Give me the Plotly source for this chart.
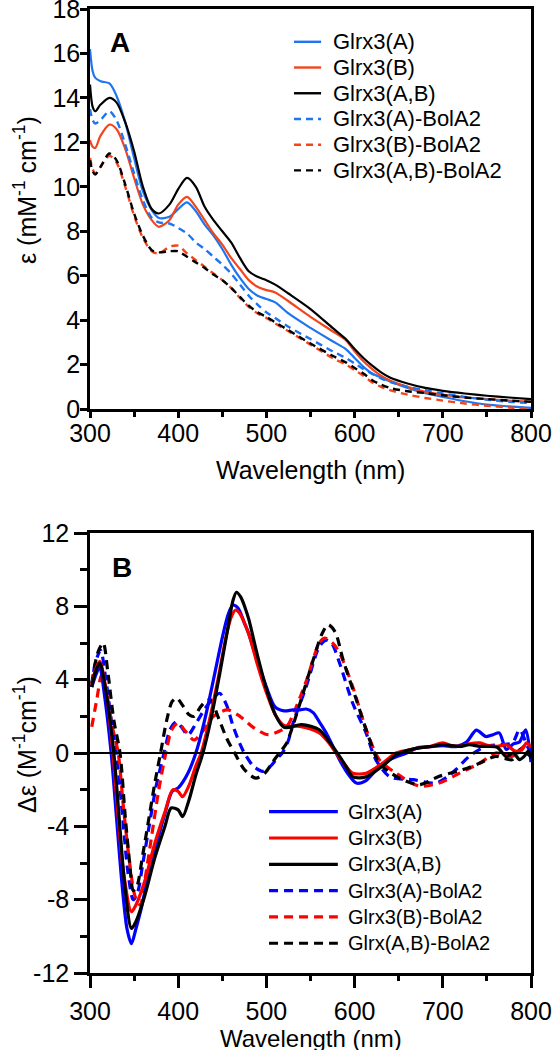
import plotly.graph_objects as go

# ---------------- Panel A: absorption ----------------
WL_ABS = [300, 303, 306, 312, 322, 330, 340, 350, 360, 370, 378, 390, 400, 410, 420, 430, 440, 450, 460, 470,
          480, 490, 500, 510, 525, 550, 575, 590, 600, 610, 620, 630, 640, 660, 680, 700, 725, 750, 775, 800]
ABS_A = [16.2, 15.2, 14.9, 14.75, 14.65, 14.1, 12.9, 11.3, 9.8, 8.95, 8.6, 8.65, 9.0, 9.3, 8.9, 8.3, 7.8, 7.2, 6.5, 5.9,
         5.4, 5.1, 4.95, 4.8, 4.3, 3.65, 3.05, 2.7, 2.3, 1.9, 1.6, 1.42, 1.25, 0.95, 0.72, 0.55, 0.35, 0.2, 0.12, 0.05]
ABS_B = [12.1, 11.8, 11.75, 12.3, 12.8, 12.6, 11.7, 10.4, 9.2, 8.5, 8.2, 8.5, 9.2, 9.55, 9.1, 8.5, 7.9, 7.4, 6.8, 6.3,
         5.8, 5.5, 5.35, 5.25, 4.85, 4.15, 3.5, 3.1, 2.6, 2.15, 1.8, 1.5, 1.28, 1.0, 0.78, 0.65, 0.52, 0.45, 0.38, 0.33]
ABS_AB = [14.6, 13.6, 13.4, 13.7, 14.0, 13.8, 12.9, 11.6, 10.0, 9.0, 8.8, 9.2, 9.9, 10.4, 10.0, 9.1, 8.5, 8.0, 7.5, 6.8,
          6.2, 5.95, 5.8, 5.6, 5.2, 4.5, 3.65, 3.15, 2.7, 2.3, 1.95, 1.65, 1.42, 1.15, 0.95, 0.82, 0.7, 0.6, 0.52, 0.45]
ABS_A_BOL = [13.5, 13.0, 12.85, 13.0, 13.4, 13.0, 11.9, 10.6, 9.4, 8.6, 8.4, 8.35, 8.15, 7.9, 7.5, 7.2, 6.85, 6.5, 6.1, 5.6,
             5.1, 4.7, 4.35, 4.1, 3.7, 3.15, 2.6, 2.3, 2.05, 1.8, 1.58, 1.38, 1.22, 1.0, 0.85, 0.7, 0.55, 0.42, 0.33, 0.27]
ABS_B_BOL = [11.3, 10.8, 10.6, 10.9, 11.4, 11.1, 10.0, 8.7, 7.7, 7.1, 7.0, 7.3, 7.35, 7.0, 6.7, 6.4, 6.1, 5.8, 5.45, 5.0,
             4.6, 4.3, 4.1, 3.85, 3.5, 2.9, 2.3, 2.0, 1.75, 1.5, 1.2, 1.0, 0.85, 0.65, 0.5, 0.38, 0.25, 0.15, 0.07, 0.0]
ABS_AB_BOL = [11.2, 10.7, 10.55, 10.9, 11.5, 11.2, 10.1, 8.8, 7.8, 7.15, 7.05, 7.1, 7.1, 6.85, 6.6, 6.35, 6.05, 5.8, 5.45, 5.05,
              4.65, 4.35, 4.15, 3.9, 3.55, 2.95, 2.4, 2.1, 1.85, 1.6, 1.3, 1.1, 0.95, 0.8, 0.72, 0.62, 0.52, 0.45, 0.38, 0.33]

# ---------------- Panel B: CD ----------------
CD_WL_A = [302, 307, 311, 316, 324, 330, 336, 342, 347, 352, 358, 362, 373, 385, 393, 400, 411, 420, 430, 440,
           450, 457, 462, 468, 475, 480, 490, 500, 510, 520, 530, 538, 545, 553, 560, 568, 575, 583, 592, 602,
           613, 625, 640, 659, 672, 685, 700, 715, 727, 738, 749, 757, 764, 772, 780, 787, 794, 800]
CD_A = [3.6, 4.3, 4.7, 3.3, 0.0, -3.5, -7.0, -9.6, -10.4, -9.6, -8.5, -7.6, -5.4, -3.3, -2.1, -1.9, -1.1, 0.0, 1.8, 4.0,
        6.3, 7.6, 8.07, 7.9, 7.1, 6.5, 5.0, 3.6, 2.5, 2.3, 2.35, 2.35, 2.4, 2.2, 1.7, 1.08, 0.4, -0.38, -1.1, -1.64,
        -1.5, -0.9, -0.36, 0.0, 0.3, 0.35, 0.4, 0.35, 0.6, 1.25, 0.9, 1.0, 1.1, 0.2, 0.5, 0.6, 1.27, -0.5]

CD_WL_B = [302, 306, 311, 318, 326, 332, 338, 347, 352, 362, 373, 385, 394, 400, 405, 412, 420, 426, 435, 445,
           455, 460, 465, 470, 475, 480, 490, 500, 510, 520, 538, 560, 570, 579, 590, 598, 613, 632, 647, 660,
           672, 685, 700, 710, 719, 730, 742, 752, 762, 772, 782, 790, 795, 800]
CD_B = [3.7, 4.5, 5.0, 3.5, 0.0, -3.5, -6.5, -8.66, -8.3, -7.0, -5.0, -3.2, -2.0, -2.1, -2.38, -1.8, -0.7, 0.0, 1.7, 4.0,
        6.5, 7.4, 7.8, 7.6, 7.1, 6.5, 4.8, 3.3, 2.1, 1.5, 1.45, 1.1, 0.6, 0.0, -0.7, -1.1, -1.1, -0.55, 0.0, 0.15,
        0.27, 0.35, 0.55, 0.4, 0.36, 0.5, 0.55, 0.4, 0.36, 0.45, 0.1, 0.2, 0.55, 0.3]

CD_WL_AB = [302, 306, 311, 318, 327, 333, 339, 347, 352, 362, 373, 385, 392, 400, 405, 412, 420, 428, 437, 447,
            457, 462, 466, 471, 476, 480, 490, 500, 510, 520, 540, 560, 570, 579, 590, 598, 613, 632, 647, 660,
            672, 685, 700, 719, 730, 742, 752, 762, 772, 780, 787, 792, 797, 800]
CD_AB = [3.6, 4.4, 4.9, 3.4, 0.0, -3.5, -7.0, -9.57, -9.2, -7.8, -5.8, -4.0, -3.0, -3.1, -3.47, -2.6, -1.2, 0.0, 1.8, 4.3,
         7.0, 8.3, 8.77, 8.5, 7.9, 7.3, 5.3, 3.5, 2.1, 1.4, 1.55, 1.27, 0.7, 0.1, -0.7, -1.3, -1.3, -0.7, -0.1, 0.15,
         0.27, 0.35, 0.45, 0.36, 0.45, 0.36, 0.36, 0.3, -0.2, 0.0, -0.36, -0.2, 0.1, -0.3]

CD_WL_A_BOL = [302, 306, 312, 318, 325, 330, 337, 343, 349, 354, 360, 367, 375, 384, 391, 398, 404, 411, 420, 430,
               440, 447, 455, 462, 470, 475, 485, 496, 505, 512, 518, 525, 530, 545, 560, 568, 575, 583, 598, 613,
               624, 640, 666, 692, 705, 715, 730, 749, 765, 779, 787, 796, 800]
CD_A_BOL = [3.6, 4.9, 5.6, 4.0, 1.5, 0.0, -3.5, -6.5, -8.0, -7.6, -6.0, -4.0, -1.8, 0.0, 1.3, 1.7, 1.4, 0.98, 1.6, 2.4,
            3.0, 3.26, 2.6, 1.5, 0.5, 0.0, -0.7, -1.0, -0.7, -0.3, 0.0, 0.7, 1.6, 3.6, 5.8, 6.16, 5.9, 4.9, 2.7, 1.1,
            -0.36, -1.3, -1.45, -1.64, -1.3, -0.9, -0.18, 0.36, 0.45, 0.55, 1.27, 0.36, 0.0]

CD_WL_B_BOL = [302, 308, 313, 318, 325, 332, 338, 345, 351, 357, 362, 370, 378, 386, 393, 400, 408, 418, 428, 440,
               456, 470, 485, 502, 515, 524, 532, 545, 560, 566, 575, 583, 598, 613, 628, 647, 673, 696, 719, 742,
               760, 770, 779, 788, 795, 800]
CD_B_BOL = [1.43, 3.0, 4.25, 3.5, 1.5, 0.0, -3.0, -6.0, -7.8, -8.3, -7.0, -4.5, -2.0, 0.0, 1.3, 1.64, 1.2, 0.71, 1.2, 2.0,
            2.35, 2.0, 1.4, 1.0, 1.2, 1.5, 2.3, 3.9, 6.0, 6.27, 6.0, 5.45, 3.6, 1.3, -0.36, -1.1, -1.8, -1.64, -1.1, -0.55,
            0.0, -0.1, -0.18, 0.2, 0.45, 0.3]

CD_WL_AB_BOL = [302, 309, 315, 320, 327, 334, 340, 345, 349, 353, 360, 367, 374, 380, 387, 393, 398, 405, 412, 418,
                425, 432, 437, 445, 455, 464, 475, 488, 498, 510, 518, 523, 538, 553, 563, 570, 578, 587, 602, 617,
                628, 647, 673, 696, 723, 742, 760, 770, 779, 788, 795, 800]
CD_AB_BOL = [3.8, 5.5, 6.0, 4.5, 1.8, 0.0, -3.5, -6.0, -7.5, -7.3, -5.5, -3.5, -1.5, 0.0, 1.8, 2.8, 3.0, 2.6, 2.1, 2.0,
             2.5, 2.85, 2.9, 2.0, 0.8, 0.0, -0.9, -1.37, -1.1, -0.3, 0.2, 0.55, 2.7, 5.07, 6.5, 7.0, 6.6, 5.07, 2.9, 0.73,
             -0.55, -1.27, -1.73, -1.27, -0.9, -0.55, -0.18, -0.3, -0.36, 0.2, 0.0, -0.2]

NAMES_A = ["Glrx3(A)", "Glrx3(B)", "Glrx3(A,B)", "Glrx3(A)-BolA2", "Glrx3(B)-BolA2", "Glrx3(A,B)-BolA2"]
NAMES_B = ["Glrx3(A)", "Glrx3(B)", "Glrx3(A,B)", "Glrx3(A)-BolA2", "Glrx3(B)-BolA2", "Glrx(A,B)-BolA2"]
COLORS_A = ["#1f74f0", "#f2451c", "#000000", "#1f74f0", "#f2451c", "#000000"]
COLORS_B = ["#0000ff", "#ff0000", "#000000", "#0000ff", "#ff0000", "#000000"]
DASHED = [False, False, False, True, True, True]

FONT = "Liberation Sans, Arial, Helvetica, sans-serif"
DASH_A = "7px,5px"
DASH_B = "9px,6px"

fig = go.Figure()

abs_series = [ABS_A, ABS_B, ABS_AB, ABS_A_BOL, ABS_B_BOL, ABS_AB_BOL]
for name, ys, col, dsh in zip(NAMES_A, abs_series, COLORS_A, DASHED):
    fig.add_trace(go.Scatter(x=WL_ABS, y=ys, mode="lines", name=name, showlegend=False,
                             line=dict(color=col, width=2.4 if dsh else 2.2, dash=DASH_A if dsh else "solid",
                                       shape="spline", smoothing=0.8),
                             xaxis="x", yaxis="y"))

cd_series = [(CD_WL_A, CD_A), (CD_WL_B, CD_B), (CD_WL_AB, CD_AB),
             (CD_WL_A_BOL, CD_A_BOL), (CD_WL_B_BOL, CD_B_BOL), (CD_WL_AB_BOL, CD_AB_BOL)]
for idx in [3, 4, 5, 0, 1, 2]:
    xs, ys = cd_series[idx]
    dsh = DASHED[idx]
    fig.add_trace(go.Scatter(x=xs, y=ys, mode="lines", name=NAMES_B[idx], showlegend=False,
                             line=dict(color=COLORS_B[idx], width=3.2, dash=DASH_B if dsh else "solid",
                                       shape="spline", smoothing=0.8),
                             xaxis="x2", yaxis="y2"))

axis_common = dict(showline=True, linecolor="black", linewidth=2.5, mirror=True, showgrid=False,
                   zeroline=False, ticks="outside", tickcolor="black", tickwidth=2.5, automargin=False,
                   ticklabeloverflow="allow",
                   tickfont=dict(family=FONT, size=25, color="black"))

fig.update_layout(
    width=552, height=1050,
    margin=dict(l=90, r=21, t=9, b=77, autoexpand=False),
    paper_bgcolor="white", plot_bgcolor="white",
    font=dict(family=FONT, color="black"),
    xaxis=dict(axis_common, domain=[0, 1], range=[300, 800], anchor="y", tickvals=[300, 400, 500, 600, 700, 800],
               ticklen=6, ticklabelstandoff=-6,
               minor=dict(dtick=50, tick0=300, ticks="outside", ticklen=5, tickwidth=2.5, tickcolor="black")),
    yaxis=dict(axis_common, domain=[0.585, 1], range=[0, 18], anchor="x", dtick=2, ticklen=7, ticklabelstandoff=-5),
    xaxis2=dict(axis_common, domain=[0, 1], range=[300, 800], anchor="y2", tickvals=[300, 400, 500, 600, 700, 800],
                ticklen=12, ticklabelstandoff=2,
                minor=dict(dtick=50, tick0=300, ticks="outside", ticklen=5, tickwidth=2.5, tickcolor="black")),
    yaxis2=dict(axis_common, domain=[0, 0.4564], range=[-12, 12], anchor="x2", tickvals=[-12, -8, -4, 0, 4, 8, 12],
                ticktext=["-12", "-8", "-4", "0", "4", "8", "12"], ticklen=13,
                minor=dict(dtick=2, tick0=0, ticks="outside", ticklen=7, tickwidth=2.5, tickcolor="black")),
)

fig.add_shape(type="line", xref="x2 domain", yref="y2", x0=0, x1=1, y0=0, y1=0,
              line=dict(color="black", width=2.2))

ann = []
ann.append(dict(text="<b>A</b>", xref="x domain", yref="y domain", x=0.068, y=0.9175, showarrow=False,
                font=dict(family=FONT, size=28, color="black"), xanchor="center", yanchor="middle"))
ann.append(dict(text="<b>B</b>", xref="x2 domain", yref="y2 domain", x=0.0726, y=0.9227, showarrow=False,
                font=dict(family=FONT, size=28, color="black"), xanchor="center", yanchor="middle"))
ann.append(dict(text="Wavelength (nm)", xref="paper", yref="paper", x=0.5, y=(973 - 470) / 964, showarrow=False,
                font=dict(family=FONT, size=25, color="black"), xanchor="center", yanchor="middle"))
ann.append(dict(text="Wavelength (nm)", xref="paper", yref="paper", x=0.5, y=(973 - 1038) / 964, showarrow=False,
                font=dict(family=FONT, size=24, color="black"), xanchor="center", yanchor="middle"))
ann.append(dict(text="ε (mM<sup>-1</sup> cm<sup>-1</sup>)", xref="paper", yref="paper", x=(25 - 90) / 441,
                y=(973 - 190) / 964, showarrow=False, textangle=-90,
                font=dict(family=FONT, size=25, color="black"), xanchor="center", yanchor="middle"))
ann.append(dict(text="Δε (M<sup>-1</sup>cm<sup>-1</sup>)", xref="paper", yref="paper", x=(25 - 90) / 441,
                y=(973 - 745) / 964, showarrow=False, textangle=-90,
                font=dict(family=FONT, size=25, color="black"), xanchor="center", yanchor="middle"))

for i, (name, col, dsh) in enumerate(zip(NAMES_A, COLORS_A, DASHED)):
    yy = 0.918 - i * 0.0643
    fig.add_shape(type="line", xref="x domain", yref="y domain", x0=0.4626, x1=0.524, y0=yy, y1=yy,
                  line=dict(color=col, width=2.4, dash=DASH_A if dsh else "solid"))
    ann.append(dict(text=name, xref="x domain", yref="y domain", x=0.5465, y=yy, showarrow=False,
                    font=dict(family=FONT, size=22, color="black"), xanchor="left", yanchor="middle"))
for i, (name, col, dsh) in enumerate(zip(NAMES_B, COLORS_B, DASHED)):
    yy = 0.3666 - i * 0.0598
    fig.add_shape(type="line", xref="x2 domain", yref="y2 domain", x0=0.406, x1=0.562, y0=yy, y1=yy,
                  line=dict(color=col, width=3.2, dash=DASH_B if dsh else "solid"))
    ann.append(dict(text=name, xref="x2 domain", yref="y2 domain", x=0.580, y=yy, showarrow=False,
                    font=dict(family=FONT, size=20, color="black"), xanchor="left", yanchor="middle"))

fig.update_layout(annotations=ann)
fig.write_html("out.html", config={"displayModeBar": False},
               post_script="document.body.style.margin='0';document.body.style.padding='0';")
